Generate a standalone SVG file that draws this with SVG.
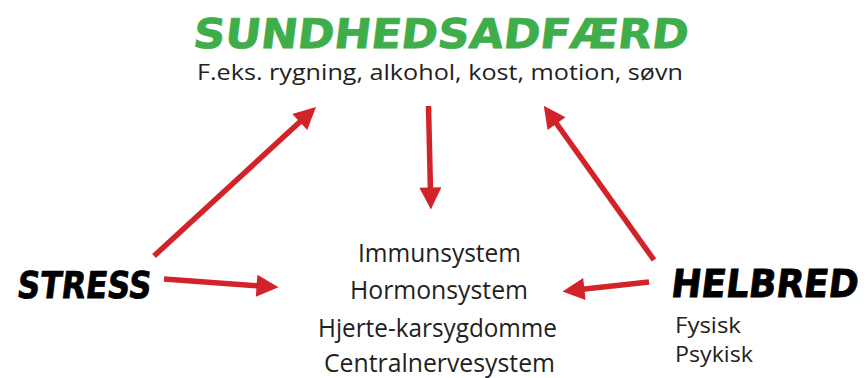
<svg xmlns="http://www.w3.org/2000/svg" width="867" height="378" viewBox="0 0 867 378">
<style>
.hd{font-family:"DejaVu Sans","Liberation Sans",sans-serif;font-weight:bold}
.tx{font-family:"Open Sans","Noto Sans","Liberation Sans",sans-serif;fill:#231f20}
.ln{stroke:#d2232a;stroke-width:5.5;fill:none;marker-end:url(#ah)}
</style>
<defs>
<marker id="ah" viewBox="0 0 10 10" refX="2" refY="5" markerWidth="5" markerHeight="4" markerUnits="strokeWidth" orient="auto">
<path d="M0,0 L10,5 L0,10 z" fill="#d2232a"/>
</marker>
</defs>
<rect width="867" height="378" fill="#fff"/>
<g id="sundhedsadfaerd">
<text class="hd" transform="translate(192,48) skewX(-7)" font-size="41" fill="#3fad4a" stroke="#3fad4a" stroke-width="0.8" textLength="495" lengthAdjust="spacingAndGlyphs">SUNDHEDSADFÆRD</text>
<text class="tx" x="197" y="80" font-size="22" textLength="486" lengthAdjust="spacingAndGlyphs">F.eks. rygning, alkohol, kost, motion, søvn</text>
</g>
<g id="stress">
<text class="hd" transform="translate(16,298) skewX(-7)" font-size="37" fill="#000" stroke="#000" stroke-width="0.8" textLength="134" lengthAdjust="spacingAndGlyphs">STRESS</text>
</g>
<g id="helbred">
<text class="hd" transform="translate(670,297) skewX(-7) scale(1,1.1)" font-size="35" fill="#000" stroke="#000" stroke-width="0.8" textLength="187" lengthAdjust="spacingAndGlyphs">HELBRED</text>
<text class="tx" x="675" y="333" font-size="22" textLength="66" lengthAdjust="spacingAndGlyphs">Fysisk</text>
<text class="tx" x="675" y="362" font-size="22" textLength="78" lengthAdjust="spacingAndGlyphs">Psykisk</text>
</g>
<g id="systemer">
<text class="tx" x="358" y="262" font-size="25" textLength="163" lengthAdjust="spacingAndGlyphs">Immunsystem</text>
<text class="tx" x="350" y="299" font-size="25" textLength="178" lengthAdjust="spacingAndGlyphs">Hormonsystem</text>
<text class="tx" x="318" y="337" font-size="25" textLength="239" lengthAdjust="spacingAndGlyphs">Hjerte-karsygdomme</text>
<text class="tx" x="324" y="372" font-size="25" textLength="231" lengthAdjust="spacingAndGlyphs">Centralnervesystem</text>
</g>
<g id="connectors">
<line class="ln" x1="154" y1="256" x2="303" y2="119"/>
<line class="ln" x1="428.5" y1="106" x2="430.5" y2="192"/>
<line class="ln" x1="654" y1="260" x2="554" y2="120"/>
<line class="ln" x1="164" y1="279" x2="261" y2="286"/>
<line class="ln" x1="649" y1="282" x2="580" y2="289.5"/>
</g>
</svg>
